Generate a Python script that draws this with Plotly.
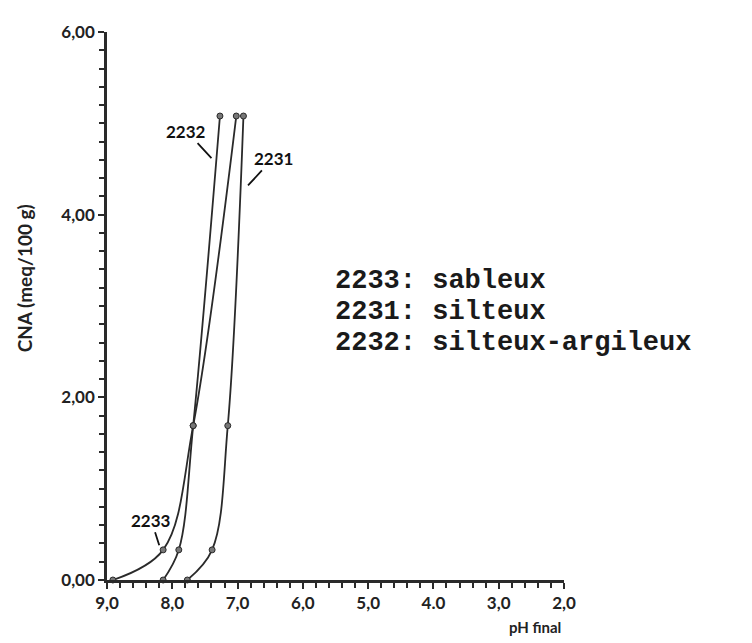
import plotly.graph_objects as go

# Data (pH final, CNA meq/100 g)
ph_2233 = [8.91, 8.14, 7.68, 7.02]
cna_2233 = [0.0, 0.33, 1.69, 5.08]
ph_2232 = [8.14, 7.90, 7.68, 7.27]
cna_2232 = [0.0, 0.33, 1.69, 5.08]
ph_2231 = [7.77, 7.39, 7.15, 6.91]
cna_2231 = [0.0, 0.33, 1.69, 5.08]

x_tickvals = [9, 8, 7, 6, 5, 4, 3, 2]
x_ticktext = ["9,0", "8,0", "7,0", "6,0", "5,0", "4.0", "3,0", "2,0"]
y_tickvals = [0, 2, 4, 6]
y_ticktext = ["0,00", "2,00", "4,00", "6,00"]

legend_lines = ["2233: sableux", "2231: silteux", "2232: silteux-argileux"]

LINE = "#2a2a2a"
FONT = "Lato"

fig = go.Figure()
for xs, ys, name in [(ph_2233, cna_2233, "2233"), (ph_2232, cna_2232, "2232"), (ph_2231, cna_2231, "2231")]:
    fig.add_trace(go.Scatter(
        x=xs, y=ys, mode="lines+markers", name=name,
        line=dict(color=LINE, width=1.8, shape="spline", smoothing=1.0),
        marker=dict(symbol="circle", size=6, color="#777777", line=dict(color=LINE, width=1)),
        cliponaxis=False,
    ))

fig.update_xaxes(
    range=[9, 2], tickmode="array", tickvals=x_tickvals, ticktext=x_ticktext,
    ticks="outside", ticklen=6, tickwidth=2, tickcolor=LINE,
    minor=dict(dtick=0.2, tick0=0, ticks="outside", ticklen=5, tickwidth=1.5, tickcolor=LINE),
    showline=True, linecolor=LINE, linewidth=2.5, showgrid=False, zeroline=False,
    tickfont=dict(family=FONT, size=17, color="#222222", weight="bold"),
)
fig.update_yaxes(
    range=[0, 6], tickmode="array", tickvals=y_tickvals, ticktext=y_ticktext,
    ticks="outside", ticklen=6, tickwidth=2, tickcolor=LINE,
    minor=dict(dtick=0.2, tick0=0, ticks="outside", ticklen=5, tickwidth=1.5, tickcolor=LINE),
    showline=True, linecolor=LINE, linewidth=2.5, showgrid=False, zeroline=False,
    tickfont=dict(family=FONT, size=17, color="#222222", weight="bold"),
)

annotations = []
# axis titles
annotations.append(dict(text="CNA (meq/100 g)", xref="paper", yref="paper", x=-0.18, y=0.55,
                        textangle=-90, showarrow=False, xanchor="center", yanchor="middle",
                        font=dict(family=FONT, size=19, color="#222222", weight="bold")))
annotations.append(dict(text="pH final", xref="paper", yref="paper", x=0.937, y=-0.086,
                        showarrow=False, xanchor="center", yanchor="middle",
                        font=dict(family=FONT, size=15, color="#222222", weight="bold")))
# curve labels with leader lines
for txt, px, py, ax, ay in [("2232", 7.40, 4.62, -25, -27), ("2231", 6.84, 4.32, 25, -27), ("2233", 8.20, 0.38, -8, -25)]:
    annotations.append(dict(text=txt, x=px, y=py, xref="x", yref="y", showarrow=True,
                            arrowhead=0, arrowwidth=1.8, arrowcolor="#111111", ax=ax, ay=ay,
                            font=dict(family=FONT, size=17, color="#111111", weight="bold")))
# sample legend block
for i, line in enumerate(legend_lines):
    annotations.append(dict(text=line, xref="paper", yref="paper", x=0.495, y=0.545 - i * 0.056,
                            xanchor="left", yanchor="middle", showarrow=False,
                            font=dict(family="Liberation Mono", size=27, color="#1a1a1a", weight="bold")))

fig.update_layout(
    width=752, height=643,
    margin=dict(l=107, r=188, t=32, b=63),
    plot_bgcolor="white", paper_bgcolor="white",
    showlegend=False, annotations=annotations,
)

fig.write_html("out.html")
